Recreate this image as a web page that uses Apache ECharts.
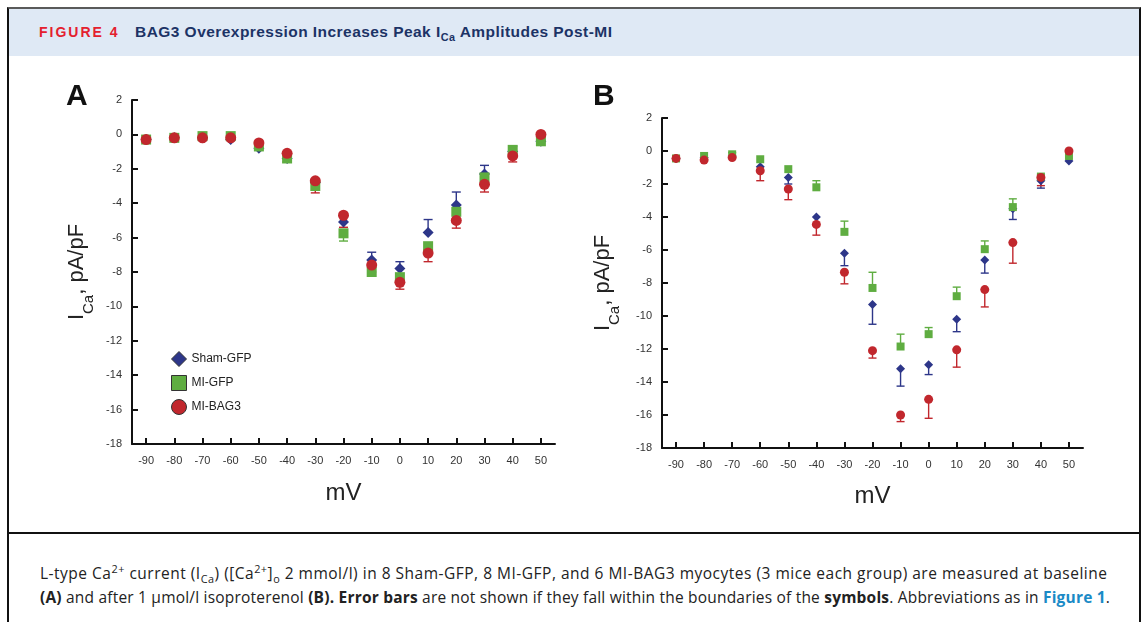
<!DOCTYPE html>
<html>
<head>
<meta charset="utf-8">
<title>BAG3 Overexpression Increases Peak ICa Amplitudes Post-MI</title>
<script src="https://cdn.jsdelivr.net/npm/echarts@6/dist/echarts.min.js"></script>
<style>
  html, body { margin: 0; padding: 0; background: #fff; }
  body { width: 1142px; height: 622px; position: relative; overflow: hidden; }
  .frame {
    position: absolute; left: 7px; top: 7px; width: 1130px; height: 640px;
    border-left: 2px solid #111; border-right: 2px solid #111; border-top: 2px solid #5a5a5a;
  }
  .head {
    position: absolute; left: 0; top: 0; right: 0; height: 47px; background: #dfe9f5;
    font-family: "Liberation Sans", Arial, sans-serif; font-weight: bold;
  }
  .head .fig { position: absolute; left: 30px; top: 15px; font-size: 14px; color: #e4202e; letter-spacing: 2px; }
  .head .ttl { position: absolute; left: 126px; top: 14px; font-size: 15.5px; letter-spacing: 0.45px; color: #1c3366; }
  .sep { position: absolute; left: 0; right: 0; top: 523px; height: 2px; background: #111; }
  .caption {
    position: absolute; left: 40px; top: 561px; width: 1095px; white-space: nowrap;
    font-family: "Open Sans", sans-serif; font-size: 15.5px; line-height: 24px; color: #222;
  }
  .caption .l1 { letter-spacing: 0.5px; }
  .caption .l2 { letter-spacing: 0.2px; }
  .caption b { font-weight: bold; }
  .caption .lnk { color: #1a8ac6; font-weight: bold; }
  sub, sup { font-size: 70%; line-height: 0; }
  #chart { position: absolute; left: 0; top: 0; width: 1142px; height: 622px; }
</style>
</head>
<body>
<div class="frame">
  <div class="head">
    <span class="fig">FIGURE 4</span>
    <span class="ttl">BAG3 Overexpression Increases Peak I<sub>Ca</sub> Amplitudes Post-MI</span>
  </div>
  <div class="sep"></div>
</div>
<div class="caption">
  <span class="l1">L-type Ca<sup>2+</sup> current (I<sub>Ca</sub>) ([Ca<sup>2+</sup>]<sub>o</sub> 2 mmol/l) in 8 Sham-GFP, 8 MI-GFP, and 6 MI-BAG3 myocytes (3 mice each group) are measured at baseline</span><br>
  <span class="l2"><b>(A)</b> and after 1 &mu;mol/l isoproterenol <b>(B). Error bars</b> are not shown if they fall within the boundaries of the <b>symbols</b>. Abbreviations as in <span class="lnk">Figure 1</span>.</span>
</div>
<div id="chart"></div>
<script>
// membrane potential steps (mV)
const voltages = [-90, -80, -70, -60, -50, -40, -30, -20, -10, 0, 10, 20, 30, 40, 50]
const xTicks = [-90, -80, -70, -60, -50, -40, -30, -20, -10, 0, 10, 20, 30, 40, 50]
const groupNames = ['Sham-GFP', 'MI-GFP', 'MI-BAG3']

// panel A: baseline, mean I_Ca (pA/pF)
const shamA = [-0.3, -0.2, -0.2, -0.3, -0.8, -1.4, -2.8, -5.1, -7.3, -7.8, -5.7, -4.1, -2.3, -1.0, -0.4]
const gfpA = [-0.3, -0.2, -0.1, -0.1, -0.7, -1.4, -3.0, -5.75, -8.0, -8.3, -6.5, -4.5, -2.5, -0.9, -0.4]
const bag3A = [-0.3, -0.2, -0.2, -0.2, -0.5, -1.1, -2.7, -4.7, -7.6, -8.6, -6.9, -5.0, -2.9, -1.25, 0.0]
// one-sided error bars, signed (+ up, - down, 0 = hidden)
const shamErrA = [0, 0, 0, 0, 0, 0, 0, 0.35, 0.45, 0.4, 0.75, 0.75, 0.5, 0.3, 0]
const gfpErrA = [0, 0, 0, 0, 0, 0, 0, -0.45, 0, 0, 0, 0, 0, 0, 0]
const bag3ErrA = [0, 0, 0, 0, 0, -0.5, -0.7, -0.7, -0.4, -0.4, -0.5, -0.45, -0.45, -0.35, 0]

// panel B: isoproterenol
const shamB = [-0.45, -0.4, -0.3, -0.95, -1.6, -4.0, -6.2, -9.3, -13.2, -12.95, -10.2, -6.6, -3.5, -1.8, -0.6]
const gfpB = [-0.45, -0.3, -0.2, -0.5, -1.1, -2.2, -4.9, -8.3, -11.85, -11.1, -8.8, -5.95, -3.4, -1.55, -0.3]
const bag3B = [-0.45, -0.55, -0.4, -1.2, -2.3, -4.45, -7.35, -12.1, -16.0, -15.05, -12.05, -8.4, -5.55, -1.6, 0.0]
const shamErrB = [0, 0, 0, 0, -0.4, 0, -0.75, -1.2, -1.05, -0.6, -0.75, -0.8, -0.65, -0.45, 0]
const gfpErrB = [0, 0, 0.1, 0, 0, 0.4, 0.65, 0.95, 0.75, 0.4, 0.55, 0.5, 0.5, 0, 0]
const bag3ErrB = [0, 0, 0, -0.6, -0.65, -0.65, -0.7, -0.45, -0.4, -1.15, -1.05, -1.05, -1.25, -0.5, 0]

const colors = ['#2d3689', '#5fad41', '#c1272d']
const symbols = ['diamond', 'rect', 'circle']
const font = '"Liberation Sans", Arial, sans-serif'

function triples(vals, errs) {
  return voltages.map((v, i) => [v, vals[i], errs[i]])
}

function xAxisFor(gridIndex, gap) {
  return {
    gridIndex,
    type: 'value',
    min: -95,
    max: 55,
    name: 'mV',
    nameLocation: 'middle',
    nameGap: gap,
    nameTextStyle: { fontSize: 24, fontFamily: font, color: '#222' },
    splitLine: { show: false },
    axisLine: { onZero: false, lineStyle: { color: '#111', width: 2 } },
    axisTick: { inside: true, length: 6, customValues: xTicks, lineStyle: { color: '#111', width: 2 } },
    axisLabel: { customValues: xTicks, margin: 11, fontSize: 11, fontFamily: font, color: '#333' }
  }
}

function yAxisFor(gridIndex, gap) {
  return {
    gridIndex,
    type: 'value',
    min: -18,
    max: 2,
    interval: 2,
    name: '{m|I}{s|Ca}{m|, pA/pF}',
    nameLocation: 'middle',
    nameRotate: 90,
    nameGap: gap,
    nameTextStyle: {
      color: '#222',
      rich: {
        m: { fontSize: 22, fontFamily: font, color: '#222', lineHeight: 30, verticalAlign: 'top' },
        s: { fontSize: 15, fontFamily: font, color: '#222', lineHeight: 15, verticalAlign: 'bottom' }
      }
    },
    splitLine: { show: false },
    axisLine: { onZero: false, lineStyle: { color: '#111', width: 2 } },
    axisTick: { inside: true, length: 6, lineStyle: { color: '#111', width: 2 } },
    axisLabel: { margin: 10, fontSize: 11, fontFamily: font, color: '#333' }
  }
}

function errorSeries(axis, data, color, cap) {
  return {
    type: 'custom',
    xAxisIndex: axis,
    yAxisIndex: axis,
    z: 1,
    silent: true,
    encode: { x: 0, y: 1 },
    data,
    renderItem(params, api) {
      const e = api.value(2)
      if (!e) return
      const p0 = api.coord([api.value(0), api.value(1)])
      const p1 = api.coord([api.value(0), api.value(1) + e])
      const style = { stroke: color, lineWidth: 1.4 }
      return {
        type: 'group',
        children: [
          { type: 'line', shape: { x1: p0[0], y1: p0[1], x2: p1[0], y2: p1[1] }, style },
          { type: 'line', shape: { x1: p1[0] - cap, y1: p1[1], x2: p1[0] + cap, y2: p1[1] }, style }
        ]
      }
    }
  }
}

function pointSeries(axis, i, vals, size) {
  return {
    name: groupNames[i],
    type: 'scatter',
    xAxisIndex: axis,
    yAxisIndex: axis,
    z: 2 + i,
    symbol: symbols[i],
    symbolSize: i === 0 ? size + 1 : size,
    itemStyle: { color: colors[i], opacity: 1 },
    data: voltages.map((v, k) => [v, vals[k]])
  }
}

const chart = echarts.init(document.getElementById('chart'), null, { renderer: 'canvas' })

chart.setOption({
  animation: false,
  backgroundColor: 'transparent',
  textStyle: { fontFamily: font },
  grid: [
    { left: 132, top: 100, width: 423, height: 344 },
    { left: 662, top: 118, width: 421, height: 330 }
  ],
  xAxis: [xAxisFor(0, 37), xAxisFor(1, 36)],
  yAxis: [yAxisFor(0, 36), yAxisFor(1, 40)],
  legend: {
    orient: 'vertical',
    left: 166,
    top: 346,
    itemWidth: 15,
    itemHeight: 15,
    itemGap: 8,
    data: groupNames,
    itemStyle: { borderColor: '#333', borderWidth: 1 },
    textStyle: { fontSize: 12, fontFamily: font, color: '#222' },
    selectedMode: false
  },
  graphic: [
    { type: 'text', left: 66, top: 82, style: { text: 'A', fontSize: 30, fontWeight: 'bold', fontFamily: font, fill: '#111' } },
    { type: 'text', left: 593, top: 82, style: { text: 'B', fontSize: 30, fontWeight: 'bold', fontFamily: font, fill: '#111' } }
  ],
  series: [
    errorSeries(0, triples(shamA, shamErrA), colors[0], 4.5),
    errorSeries(0, triples(gfpA, gfpErrA), colors[1], 4.5),
    errorSeries(0, triples(bag3A, bag3ErrA), colors[2], 4.5),
    pointSeries(0, 0, shamA, 10),
    pointSeries(0, 1, gfpA, 10),
    pointSeries(0, 2, bag3A, 11),
    errorSeries(1, triples(shamB, shamErrB), colors[0], 4),
    errorSeries(1, triples(gfpB, gfpErrB), colors[1], 4),
    errorSeries(1, triples(bag3B, bag3ErrB), colors[2], 4),
    pointSeries(1, 0, shamB, 8),
    pointSeries(1, 1, gfpB, 8),
    pointSeries(1, 2, bag3B, 9)
  ]
})
</script>
</body>
</html>
